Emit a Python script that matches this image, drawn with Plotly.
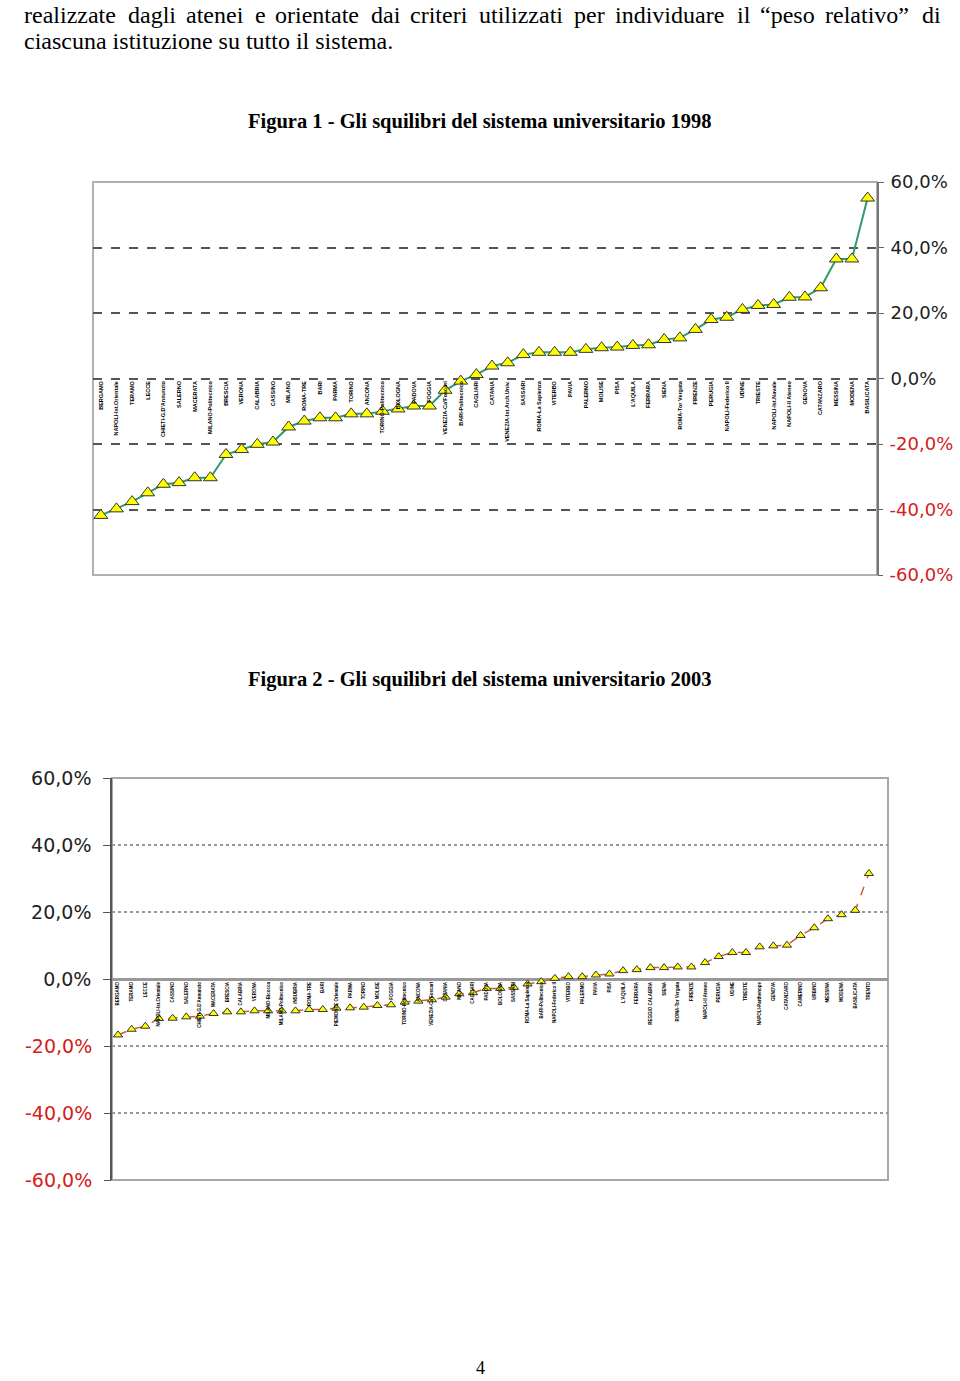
import plotly.graph_objects as go

# pagina 960x1381, coordinate in pixel convertite in frazioni della pagina
W, H = 960, 1381


def px(x):
    return x / W


def py(y):
    return 1 - y / H


# Figura 1 - 1998
atenei_1998 = [
    "BERGAMO", "NAPOLI-Ist.Orientale", "TERAMO", "LECCE", "CHIETI-G.D'Annunzio",
    "SALERNO", "MACERATA", "MILANO-Politecnico", "BRESCIA", "VERONA",
    "CALABRIA", "CASSINO", "MILANO", "ROMA-TRE", "BARI",
    "PARMA", "TORINO", "ANCONA", "TORINO-Politecnico", "BOLOGNA",
    "PADOVA", "FOGGIA", "VENEZIA-Ca'Foscari", "BARI-Politecnico", "CAGLIARI",
    "CATANIA", "VENEZIA-Ist.Arch.Univ.", "SASSARI", "ROMA-La Sapienza", "VITERBO",
    "PAVIA", "PALERMO", "MOLISE", "PISA", "L'AQUILA",
    "FERRARA", "SIENA", "ROMA-Tor Vergata", "FIRENZE", "PERUGIA",
    "NAPOLI-Federico II", "UDINE", "TRIESTE", "NAPOLI-Ist.Navale", "NAPOLI-II Ateneo",
    "GENOVA", "CATANZARO", "MESSINA", "MODENA", "BASILICATA",
]
squilibri_1998 = [
    -41.8, -39.8, -37.6, -34.9, -32.3, -31.8, -30.3, -30.3, -23.2, -21.7,
    -20.1, -19.4, -14.8, -13.0, -12.0, -12.0, -10.8, -10.8, -10.0, -9.3,
    -8.4, -8.4, -3.6, -0.8, 1.2, 3.8, 4.8, 7.3, 8.0, 8.0,
    8.0, 8.9, 9.4, 9.6, 10.1, 10.3, 11.9, 12.4, 15.0, 18.0,
    18.7, 21.1, 22.3, 22.6, 24.8, 24.9, 27.7, 36.5, 36.5, 55.1,
]

# Figura 2 - 2003
atenei_2003 = [
    "BERGAMO", "TERAMO", "LECCE", "NAPOLI-Ist.Orientale", "CASSINO",
    "SALERNO", "CHIETI-G.D'Annunzio", "MACERATA", "BRESCIA", "CALABRIA",
    "VERONA", "MILANO-Bicocca", "MILANO-Politecnico", "INSUBRIA", "ROMA-TRE",
    "BARI", "PIEMONTE Orientale", "PARMA", "TORINO", "MOLISE",
    "FOGGIA", "TORINO-Politecnico", "ANCONA", "VENEZIA-Ca'Foscari", "CATANIA",
    "MILANO", "CAGLIARI", "PADOVA", "BOLOGNA", "SASSARI",
    "ROMA-La Sapienza", "BARI-Politecnico", "NAPOLI-Federico II", "VITERBO", "PALERMO",
    "PAVIA", "PISA", "L'AQUILA", "FERRARA", "REGGIO CALABRIA",
    "SIENA", "ROMA-Tor Vergata", "FIRENZE", "NAPOLI-II Ateneo", "PERUGIA",
    "UDINE", "TRIESTE", "NAPOLI-Parthenope", "GENOVA", "CATANZARO",
    "CAMERINO", "URBINO", "MESSINA", "MODENA", "BASILICATA",
    "TRENTO",
]
squilibri_2003 = [
    -16.7, -15.0, -14.1, -11.8, -11.7, -11.3, -11.1, -10.3, -9.8, -9.8,
    -9.5, -9.5, -9.5, -9.5, -9.1, -9.1, -8.7, -8.6, -8.4, -7.9,
    -7.7, -6.9, -6.6, -6.2, -5.4, -4.4, -4.1, -2.8, -2.8, -2.5,
    -1.5, -0.8, 0.2, 0.7, 0.7, 1.2, 1.5, 2.5, 2.8, 3.4,
    3.4, 3.6, 3.6, 4.9, 6.7, 7.9, 7.9, 9.6, 9.9, 10.1,
    13.0, 15.3, 18.0, 19.2, 20.5, 31.5,
]

tick_pos = [0, 20, 40, 60]
tick_pos_txt = ["0,0%", "20,0%", "40,0%", "60,0%"]
tick_neg = [-20, -40, -60]
tick_neg_txt = ["-20,0%", "-40,0%", "-60,0%"]

fig = go.Figure()

fig.add_trace(go.Scatter(
    x=atenei_1998, y=squilibri_1998, xaxis="x", yaxis="y",
    mode="lines+markers",
    line=dict(color="#2f9a6c", width=2),
    marker=dict(symbol="triangle-up", size=12, color="#ffff00",
                line=dict(color="#333333", width=1)),
))

fig.add_trace(go.Scatter(
    x=atenei_2003, y=squilibri_2003, xaxis="x2", yaxis="y2",
    mode="lines+markers",
    line=dict(color="#c8603a", width=1.5, dash="dash"),
    marker=dict(symbol="triangle-up", size=8, color="#ffff00",
                line=dict(color="#333333", width=1)),
))

# tracce vuote: servono solo a far disegnare gli assi delle etichette rosse
fig.add_trace(go.Scatter(x=atenei_1998[:1], y=[None], xaxis="x", yaxis="y3",
                         mode="markers", hoverinfo="skip"))
fig.add_trace(go.Scatter(x=atenei_2003[:1], y=[None], xaxis="x2", yaxis="y4",
                         mode="markers", hoverinfo="skip"))

axis_font = dict(family="DejaVu Sans", size=18, color="#222222")
neg_font = dict(family="DejaVu Sans", size=18, color="#d42020")
axis_font2 = dict(family="DejaVu Sans", size=19, color="#222222")
neg_font2 = dict(family="DejaVu Sans", size=19, color="#d42020")
lab_font1 = dict(family="Liberation Sans", size=5.5, color="black", weight="bold")
lab_font2 = dict(family="Liberation Sans", size=4.5, color="black", weight="bold")

fig.update_layout(
    width=W, height=H,
    margin=dict(l=0, r=0, t=0, b=0, autoexpand=False),
    paper_bgcolor="white", plot_bgcolor="white",
    showlegend=False,
    # grafico 1998
    xaxis=dict(domain=[px(93), px(877)], type="category", range=[-0.5, 49.6],
               anchor="free", position=py(379), showline=False, showgrid=False,
               ticks="", tickangle=-90, tickfont=lab_font1, automargin=False),
    yaxis=dict(domain=[py(575), py(182)], range=[-60, 60], anchor="x", side="right",
               tickvals=tick_pos, ticktext=tick_pos_txt, tickfont=axis_font,
               ticks="outside", ticklen=5, tickcolor="#666666", ticklabelstandoff=3,
               showline=True, linecolor="#777777", linewidth=2,
               showgrid=True, gridcolor="#555555", gridwidth=1.5, griddash="dash",
               zeroline=False, automargin=False),
    yaxis3=dict(range=[-60, 60], overlaying="y", anchor="x", side="right",
                tickvals=tick_neg, ticktext=tick_neg_txt, tickfont=neg_font,
                ticks="outside", ticklen=5, tickcolor="#666666", ticklabelstandoff=3,
                showgrid=True, gridcolor="#555555", gridwidth=1.5, griddash="dash",
                zeroline=False, automargin=False),
    # grafico 2003
    xaxis2=dict(domain=[px(112), px(888)], type="category", range=[-0.44, 56.4],
                anchor="free", position=py(980), showline=False, showgrid=False,
                ticks="", tickangle=-90, tickfont=lab_font2, automargin=False),
    yaxis2=dict(domain=[py(1180), py(778)], range=[-60, 60], anchor="x2", side="left",
                tickvals=tick_pos, ticktext=tick_pos_txt, tickfont=axis_font2,
                ticks="outside", ticklen=7, tickcolor="#555555", ticklabelstandoff=8,
                showline=True, linecolor="#555555", linewidth=1.5,
                showgrid=True, gridcolor="#999999", gridwidth=1.5, griddash="dot",
                zeroline=True, zerolinecolor="#999999", zerolinewidth=2.5,
                automargin=False),
    yaxis4=dict(range=[-60, 60], overlaying="y2", anchor="x2", side="left",
                tickvals=tick_neg, ticktext=tick_neg_txt, tickfont=neg_font2,
                ticks="outside", ticklen=7, tickcolor="#555555", ticklabelstandoff=8,
                showgrid=True, gridcolor="#999999", gridwidth=1.5, griddash="dot",
                zeroline=False, automargin=False),
)

# cornici delle aree del grafico
fig.add_shape(type="rect", xref="x domain", yref="y domain", x0=0, x1=1, y0=0, y1=1,
              line=dict(color="#b0b0b0", width=2), layer="below")
fig.add_shape(type="rect", xref="x2 domain", yref="y2 domain", x0=0, x1=1, y0=0, y1=1,
              line=dict(color="#a8a8a8", width=2), layer="below")

serif = "Liberation Serif"
body = dict(family=serif, size=24, color="black")

# prima riga giustificata: una parola alla volta (posizioni calcolate sulle
# larghezze Times, spazio extra ripartito uguale fra le parole)
riga1 = ["realizzate", "dagli", "atenei", "e", "orientate", "dai", "criteri",
         "utilizzati", "per", "individuare", "il", "“peso", "relativo”", "di"]
riga1_x = [22, 126, 184, 253, 273, 369, 408, 477, 572, 613, 735, 758, 823, 920]
for parola, x in zip(riga1, riga1_x):
    fig.add_annotation(text=parola, x=px(x), y=py(15), xref="paper", yref="paper",
                       xanchor="left", yanchor="middle", showarrow=False, font=body)

fig.add_annotation(text="ciascuna istituzione su tutto il sistema.", x=px(22), y=py(41),
                   xref="paper", yref="paper", xanchor="left", yanchor="middle",
                   showarrow=False, font=body)

titoli = [
    ("Figura 1 - Gli squilibri del sistema universitario 1998", 121),
    ("Figura 2 - Gli squilibri del sistema universitario 2003", 679),
]
for t, y in titoli:
    fig.add_annotation(text="<b>" + t + "</b>", x=0.5, y=py(y), xref="paper", yref="paper",
                       xanchor="center", yanchor="middle", showarrow=False,
                       font=dict(family=serif, size=20.5, color="black"))

fig.add_annotation(text="4", x=0.5, y=py(1368), xref="paper", yref="paper",
                   xanchor="center", yanchor="middle", showarrow=False,
                   font=dict(family=serif, size=18, color="black"))

# via il margine di default del body, cosi' la pagina coincide coi pixel della figura
fig.write_html("out.html", config={"displayModeBar": False},
               post_script="document.body.style.margin='0px';document.body.style.overflow='hidden';")
